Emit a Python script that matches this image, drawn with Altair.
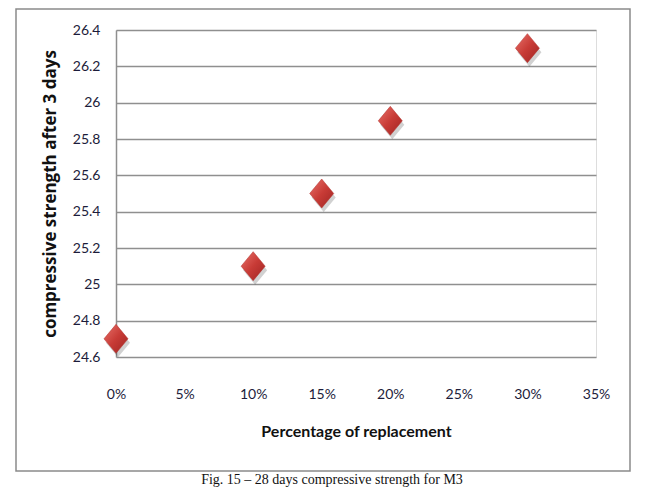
import altair as alt
import pandas as pd

replacement = [0.0, 0.10, 0.15, 0.20, 0.30]
strength = [24.7, 25.1, 25.5, 25.9, 26.3]
y_ticks = [24.6, 24.8, 25.0, 25.2, 25.4, 25.6, 25.8, 26.0, 26.2, 26.4]
x_ticks = [0.0, 0.05, 0.10, 0.15, 0.20, 0.25, 0.30, 0.35]
x_title = "Percentage of replacement"
y_title = "compressive strength after 3 days"
caption = "Fig. 15 \u2013 28 days compressive strength for M3"

df = pd.DataFrame({"rep": replacement, "str": strength})

W, H = 480, 327
diamond = "M0,-1L0.83,0L0,1L-0.83,0Z"

x_enc = alt.X("rep:Q", scale=alt.Scale(domain=[0, 0.35], nice=False),
              axis=alt.Axis(values=x_ticks, format=".0%", title=x_title,
                            grid=False, domain=False, ticks=False,
                            labelFlush=False, labelOverlap=False, labelBound=False,
                            labelPadding=30, titlePadding=22,
                            labelFont="Lato", labelFontSize=14, labelColor="#1c1c3a",
                            titleFont="Lato", titleFontSize=16, titleFontWeight="bold",
                            titleColor="#111111"))
y_enc = alt.Y("str:Q", scale=alt.Scale(domain=[24.6, 26.4], nice=False, zero=False),
              axis=alt.Axis(values=y_ticks, format="~g", title=y_title,
                            grid=True, gridColor="#8f8f8f", gridWidth=1.5, gridOpacity=1,
                            domain=True, domainColor="#8f8f8f", domainWidth=1.5,
                            ticks=False, labelPadding=16, titlePadding=13,
                            labelFlush=False, labelOverlap=False, labelBound=False,
                            labelFont="Lato", labelFontSize=14, labelColor="#1c1c3a",
                            titleFont="Open Sans", titleFontSize=17, titleFontWeight="bold",
                            titleColor="#111111"))

base = alt.Chart(df)

border = alt.Chart(pd.DataFrame({"a": [0]})).mark_rect(
    fill=None, stroke="#8a8a8a", strokeWidth=1.5, clip=False
).encode(x=alt.value(-100), x2=alt.value(514), y=alt.value(-21), y2=alt.value(441))

shadow = base.mark_point(shape=diamond, size=841, filled=True, color="#000000",
                         opacity=0.18, xOffset=2, yOffset=4, clip=False).encode(x=x_enc, y=y_enc)

pts = base.mark_point(shape=diamond, size=841, filled=True, opacity=1,
                      fill=alt.Gradient(gradient="linear", x1=0, y1=0, x2=1, y2=1,
                                        stops=[alt.GradientStop(color="#e8726b", offset=0),
                                               alt.GradientStop(color="#c83b36", offset=0.5),
                                               alt.GradientStop(color="#9e2422", offset=1)]),
                      stroke="#b0302c", strokeWidth=0.5, clip=False).encode(x=x_enc, y=y_enc)

cap = alt.Chart(pd.DataFrame({"t": [caption]})).mark_text(
    font="Liberation Serif", fontSize=14, color="#111111", align="center", baseline="middle"
).encode(x=alt.value(216), y=alt.value(450), text="t:N")

chart = alt.layer(border, shadow, pts, cap).properties(
    width=W, height=H,
    padding={"left": 108, "top": 22, "right": 40, "bottom": 131},
    autosize=alt.AutoSizeParams(type="none"),
).configure_view(stroke=None).configure(background="white")

chart.save("out.html", embed_options={"renderer": "svg", "actions": False})
